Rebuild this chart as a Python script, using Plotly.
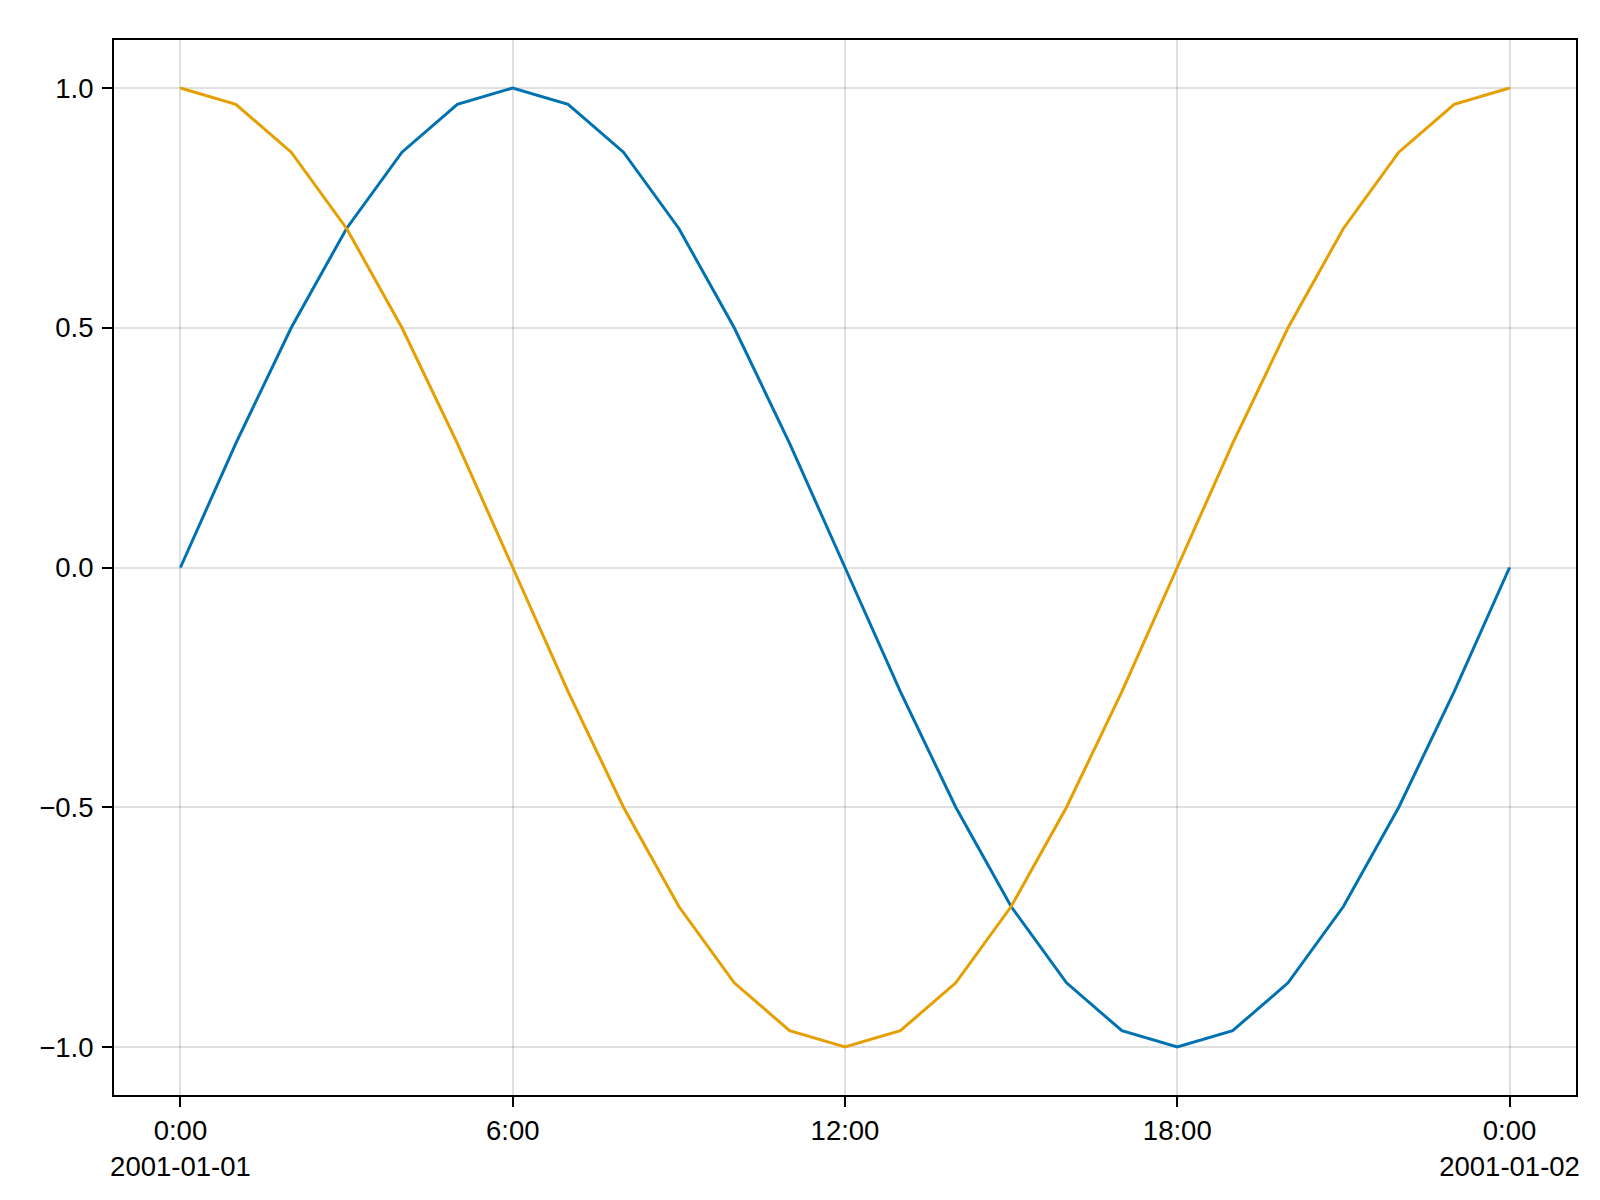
import plotly.graph_objects as go

# hourly timestamps over one day
times = [
    "2001-01-01 00:00", "2001-01-01 01:00", "2001-01-01 02:00", "2001-01-01 03:00",
    "2001-01-01 04:00", "2001-01-01 05:00", "2001-01-01 06:00", "2001-01-01 07:00",
    "2001-01-01 08:00", "2001-01-01 09:00", "2001-01-01 10:00", "2001-01-01 11:00",
    "2001-01-01 12:00", "2001-01-01 13:00", "2001-01-01 14:00", "2001-01-01 15:00",
    "2001-01-01 16:00", "2001-01-01 17:00", "2001-01-01 18:00", "2001-01-01 19:00",
    "2001-01-01 20:00", "2001-01-01 21:00", "2001-01-01 22:00", "2001-01-01 23:00",
    "2001-01-02 00:00",
]

sin_vals = [0.0, 0.259, 0.5, 0.707, 0.866, 0.966, 1.0, 0.966, 0.866, 0.707, 0.5, 0.259,
            0.0, -0.259, -0.5, -0.707, -0.866, -0.966, -1.0, -0.966, -0.866, -0.707, -0.5,
            -0.259, 0.0]
cos_vals = [1.0, 0.966, 0.866, 0.707, 0.5, 0.259, 0.0, -0.259, -0.5, -0.707, -0.866, -0.966,
            -1.0, -0.966, -0.866, -0.707, -0.5, -0.259, 0.0, 0.259, 0.5, 0.707, 0.866, 0.966,
            1.0]

x_tickvals = ["2001-01-01 00:00", "2001-01-01 06:00", "2001-01-01 12:00",
              "2001-01-01 18:00", "2001-01-02 00:00"]
x_ticktext = ["0:00<br>2001-01-01", "6:00", "12:00", "18:00", "0:00<br>2001-01-02"]

y_tickvals = [-1.0, -0.5, 0.0, 0.5, 1.0]
y_ticktext = ["\u22121.0", "\u22120.5", "0.0", "0.5", "1.0"]

BLUE = "#0072B2"
ORANGE = "#E69F00"
GRID = "rgba(0,0,0,0.12)"

fig = go.Figure()
fig.add_trace(go.Scatter(x=times, y=sin_vals, mode="lines",
                         line=dict(color=BLUE, width=3), showlegend=False))
fig.add_trace(go.Scatter(x=times, y=cos_vals, mode="lines",
                         line=dict(color=ORANGE, width=3), showlegend=False))

axis_common = dict(
    showline=True, linecolor="black", linewidth=2, mirror=True,
    showgrid=True, gridcolor=GRID, gridwidth=1.5,
    ticks="outside", ticklen=10, tickwidth=2, tickcolor="black",
    zeroline=False,
    tickfont=dict(size=27.5, color="black"),
)

fig.update_xaxes(
    type="date",
    range=["2000-12-31 22:48", "2001-01-02 01:12"],
    tickmode="array", tickvals=x_tickvals, ticktext=x_ticktext,
    **axis_common,
)
fig.update_yaxes(
    range=[-1.1, 1.1],
    tickmode="array", tickvals=y_tickvals, ticktext=y_ticktext,
    ticklabelstandoff=3,
    **axis_common,
)

fig.update_layout(
    width=1600, height=1200,
    margin=dict(l=106, r=32, t=32, b=113),
    paper_bgcolor="white", plot_bgcolor="white",
    font=dict(family="Liberation Sans, Arial, sans-serif", size=27.5, color="black"),
)

fig.write_html("out.html")
